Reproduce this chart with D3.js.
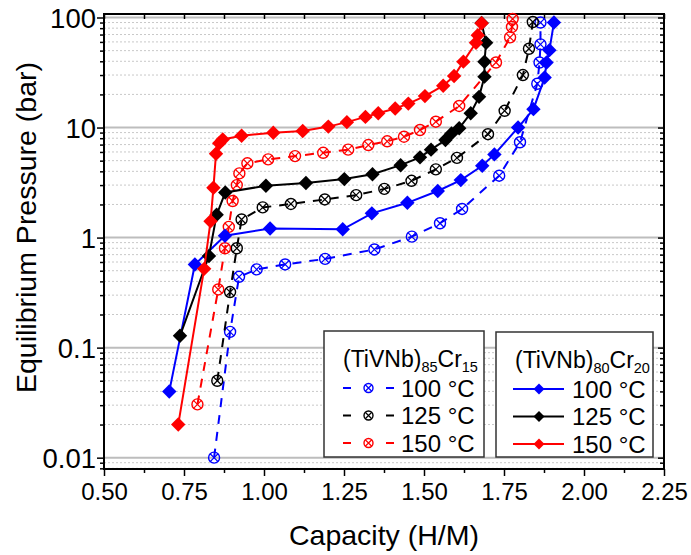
<!DOCTYPE html>
<html>
<head>
<meta charset="utf-8">
<script src="https://cdn.jsdelivr.net/npm/d3@7"></script>
<style>
  body { margin: 0; background: #fff; }
  text { font-family: "Liberation Sans", Arial, sans-serif; fill: #000; }
</style>
</head>
<body>
<script>
// data: [capacity H/M, pressure bar]
const cr15_100 = [[0.844,0.01],[0.894,0.139],[0.922,0.44],[0.977,0.514],[1.066,0.57],[1.191,0.64],[1.345,0.78],[1.462,1.02],[1.55,1.35],[1.619,1.82],[1.735,3.65],[1.80,7.35],[1.854,25],[1.861,39],[1.864,57],[1.864,90]];
const cr15_125 = [[0.854,0.05],[0.894,0.32],[0.915,0.80],[0.93,1.46],[0.996,1.88],[1.084,2.02],[1.19,2.22],[1.288,2.43],[1.376,2.77],[1.461,3.28],[1.537,4.17],[1.603,5.3],[1.70,8.7],[1.752,14.2],[1.809,30],[1.828,52],[1.84,91]];
const cr15_150 = [[0.792,0.0305],[0.857,0.338],[0.878,0.80],[0.89,1.25],[0.902,2.15],[0.915,3.0],[0.923,3.83],[0.948,4.73],[1.013,5.14],[1.097,5.5],[1.185,5.9],[1.263,6.3],[1.326,6.93],[1.385,7.5],[1.4375,8.25],[1.4875,9.5],[1.537,11.3],[1.61,15.7],[1.725,39],[1.769,66],[1.775,82],[1.777,97]];

const cr20_100 = [[0.704,0.04],[0.784,0.57],[0.878,1.04],[1.019,1.21],[1.246,1.19],[1.337,1.66],[1.448,2.07],[1.543,2.65],[1.615,3.33],[1.682,4.5],[1.72,5.7],[1.794,10.0],[1.842,14.7],[1.877,28.5],[1.883,39],[1.892,50.5],[1.906,90]];
const cr20_125 = [[0.7375,0.128],[0.828,0.68],[0.852,1.61],[0.879,2.57],[1.006,2.96],[1.131,3.13],[1.251,3.4],[1.339,3.76],[1.427,4.55],[1.4875,5.36],[1.522,6.3],[1.567,7.7],[1.586,8.85],[1.61,9.84],[1.646,13.5],[1.672,19],[1.689,29],[1.689,39.6],[1.694,59],[1.68,89]];
const cr20_150 = [[0.732,0.02],[0.813,0.52],[0.833,1.41],[0.842,2.84],[0.85,5.78],[0.86,7.2],[0.871,7.8],[0.93,8.43],[1.029,8.97],[1.121,9.3],[1.201,10.2],[1.259,11.2],[1.317,12.5],[1.357,13.5],[1.41,14.9],[1.451,16.5],[1.503,19.3],[1.56,24],[1.594,29.4],[1.623,39.7],[1.6625,59],[1.668,69],[1.68,88.6]];

const temps = ["100 °C", "125 °C", "150 °C"];
const colors = ["#0000ff", "#000000", "#ff0000"];
const xTicks = [0.50, 0.75, 1.00, 1.25, 1.50, 1.75, 2.00, 2.25];
const xMinor = [0.625, 0.875, 1.125, 1.375, 1.625, 1.875, 2.125];
const yTicks = [0.01, 0.1, 1, 10, 100];
const yTickLabels = ["0.01", "0.1", "1", "10", "100"];

const width = 691, height = 555;
const L = 104, R = 664, T = 14, B = 469;

const svg = d3.select("body").append("svg")
  .attr("width", width).attr("height", height);

const x = d3.scaleLinear().domain([0.5, 2.25]).range([L, R]);
const y = d3.scaleLog().domain([0.00789, 107.6]).range([B, T]);

// minor decade values
const yMinor = [];
[0.001, 0.01, 0.1, 1, 10].forEach(dec => {
  for (let k = 2; k <= 9; k++) {
    const v = dec * k;
    if (v > 0.00789 && v < 107.6) yMinor.push(v);
  }
});

// grid
svg.append("g").selectAll("line")
  .data(yMinor)
  .join("line")
  .attr("x1", L).attr("x2", R)
  .attr("y1", d => y(d)).attr("y2", d => y(d))
  .attr("stroke", "#c8c8c8")
  .attr("stroke-width", 1)
  .attr("stroke-dasharray", "2,2");

svg.append("g").selectAll("line")
  .data(yTicks)
  .join("line")
  .attr("x1", L).attr("x2", R)
  .attr("y1", d => y(d)).attr("y2", d => y(d))
  .attr("stroke", "#bdbdbd")
  .attr("stroke-width", 2);

// axes
const styleAxis = g => {
  g.select(".domain").remove();
  g.selectAll(".tick line").attr("stroke", "#000").attr("stroke-width", 1.5);
};

svg.append("g")
  .attr("transform", `translate(0,${B})`)
  .call(d3.axisBottom(x).tickValues(xTicks).tickFormat(d3.format(".2f")).tickSize(7).tickPadding(7))
  .call(styleAxis)
  .call(g => g.selectAll("text").attr("font-size", 24).attr("font-family", "Liberation Sans"));
svg.append("g")
  .attr("transform", `translate(0,${B})`)
  .call(d3.axisBottom(x).tickValues(xMinor).tickFormat("").tickSize(4))
  .call(styleAxis);
svg.append("g")
  .attr("transform", `translate(0,${T})`)
  .call(d3.axisTop(x).tickValues(xTicks.concat(xMinor)).tickFormat("").tickSize(-5))
  .call(styleAxis);

svg.append("g")
  .attr("transform", `translate(${L},0)`)
  .call(d3.axisLeft(y).tickValues(yTicks).tickFormat((d, i) => yTickLabels[i]).tickSize(7).tickPadding(1))
  .call(styleAxis)
  .call(g => g.selectAll("text").attr("font-size", 27.5).attr("font-family", "Liberation Sans").attr("dy", "0.35em"));
svg.append("g")
  .attr("transform", `translate(${L},0)`)
  .call(d3.axisLeft(y).tickValues(yMinor).tickFormat("").tickSize(4))
  .call(styleAxis);
svg.append("g")
  .attr("transform", `translate(${R},0)`)
  .call(d3.axisRight(y).tickValues(yTicks).tickFormat("").tickSize(-6))
  .call(styleAxis);
svg.append("g")
  .attr("transform", `translate(${R},0)`)
  .call(d3.axisRight(y).tickValues(yMinor).tickFormat("").tickSize(-4))
  .call(styleAxis);

// frame
svg.append("rect")
  .attr("x", L).attr("y", T)
  .attr("width", R - L).attr("height", B - T)
  .attr("fill", "none").attr("stroke", "#000").attr("stroke-width", 2);

// series
const line = d3.line().x(d => x(d[0])).y(d => y(d[1]));
const diamond = d3.symbol(d3.symbolSquare, 104);
const diamondSmall = d3.symbol(d3.symbolSquare, 60);

const drawOpen = (g, cx, cy, r, color) => {
  g.append("circle").attr("cx", cx).attr("cy", cy).attr("r", r)
    .attr("fill", "none").attr("stroke", color).attr("stroke-width", 1.4);
  const k = r * 0.72;
  g.append("path")
    .attr("d", `M${cx - k},${cy - k}L${cx + k},${cy + k}M${cx - k},${cy + k}L${cx + k},${cy - k}`)
    .attr("stroke", color).attr("stroke-width", 1.2).attr("fill", "none");
};

const plot = svg.append("g");

[cr15_100, cr15_125, cr15_150].forEach((data, i) => {
  const g = plot.append("g");
  g.append("path").datum(data)
    .attr("d", line)
    .attr("fill", "none")
    .attr("stroke", colors[i])
    .attr("stroke-width", 2)
    .attr("stroke-dasharray", "9,8");
  data.forEach(d => drawOpen(g, x(d[0]), y(d[1]), 5.5, colors[i]));
});

[cr20_100, cr20_125, cr20_150].forEach((data, i) => {
  const g = plot.append("g");
  g.append("path").datum(data)
    .attr("d", line)
    .attr("fill", "none")
    .attr("stroke", colors[i])
    .attr("stroke-width", 2);
  g.selectAll("path.pt")
    .data(data)
    .join("path")
    .attr("class", "pt")
    .attr("d", diamond)
    .attr("transform", d => `translate(${x(d[0])},${y(d[1])}) rotate(45)`)
    .attr("fill", colors[i]);
});

// axis titles
svg.append("text")
  .attr("x", (L + R) / 2).attr("y", 545)
  .attr("text-anchor", "middle")
  .attr("font-size", 28.5)
  .text("Capacity (H/M)");

svg.append("text")
  .attr("transform", `translate(36,${(62 + 393) / 2}) rotate(-90)`)
  .attr("text-anchor", "middle")
  .attr("font-size", 28.5)
  .text("Equilibrium Pressure (bar)");

// legends
const legend = (x0, y0, w, h, sub1, sub2, open) => {
  const g = svg.append("g");
  g.append("rect")
    .attr("x", x0).attr("y", y0).attr("width", w).attr("height", h)
    .attr("fill", "#fff").attr("stroke", "#333").attr("stroke-width", 1.5);
  const t = g.append("text").attr("x", x0 + 19).attr("y", y0 + 36).attr("font-size", 23);
  t.append("tspan").text("(TiVNb)");
  t.append("tspan").attr("font-size", 14.5).attr("dy", 5).text(sub1);
  t.append("tspan").attr("dy", -5).text("Cr");
  t.append("tspan").attr("font-size", 14.5).attr("dy", 5).text(sub2);
  temps.forEach((lab, i) => {
    const cy = y0 + 57 + i * 27.5;
    if (open) {
      g.append("line")
        .attr("x1", x0 + 19).attr("x2", x0 + 70)
        .attr("y1", cy).attr("y2", cy)
        .attr("stroke", colors[i]).attr("stroke-width", 2)
        .attr("stroke-dasharray", "8,35");
      drawOpen(g, x0 + 44.5, cy, 4.5, colors[i]);
    } else {
      g.append("line")
        .attr("x1", x0 + 17).attr("x2", x0 + 68)
        .attr("y1", cy).attr("y2", cy)
        .attr("stroke", colors[i]).attr("stroke-width", 2);
      g.append("path")
        .attr("d", diamondSmall)
        .attr("transform", `translate(${x0 + 43},${cy}) rotate(45)`)
        .attr("fill", colors[i]);
    }
    g.append("text")
      .attr("x", x0 + (open ? 77 : 76)).attr("y", cy + 8.5)
      .attr("font-size", 24)
      .text(lab);
  });
};

legend(324, 331, 160, 126, "85", "15", true);
legend(496, 332, 157, 125, "80", "20", false);
</script>
</body>
</html>
